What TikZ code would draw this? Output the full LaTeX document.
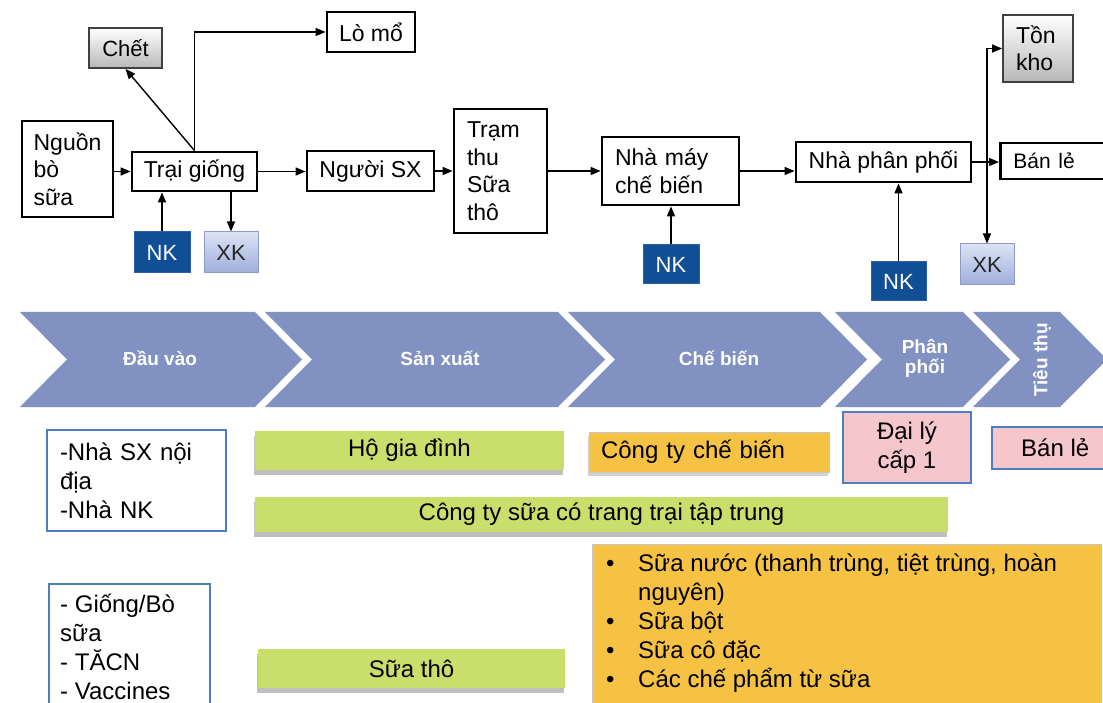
\documentclass[tikz,border=0pt]{standalone}
\usepackage{fontspec}
\setmainfont{Liberation Sans}
\usetikzlibrary{arrows.meta,shadows}
\definecolor{chev}{RGB}{128,145,194}
\definecolor{nkblue}{RGB}{16,78,150}
\definecolor{nkborder}{RGB}{45,95,165}
\definecolor{xktop}{RGB}{220,227,245}
\definecolor{xkbot}{RGB}{158,174,219}
\definecolor{xkborder}{RGB}{140,155,200}
\definecolor{grn}{RGB}{202,222,108}
\definecolor{org}{RGB}{246,194,67}
\definecolor{pnk}{RGB}{245,199,205}
\definecolor{bluebd}{RGB}{79,125,191}
\newcommand\mychevron[2]{\fill[chev] (#1,312) -- (#2,312) -- ++(47,47.5) -- ++(-47,47.5) -- (#1,407) -- ++(47,-47.5) -- cycle;}
\begin{document}
\begin{tikzpicture}[x=1pt,y=-1pt,
  box/.style={draw=black, line width=2.8pt, fill=white, inner sep=0pt, font=\fontsize{23}{27.5}\selectfont},
  graybox/.style={box, line width=1.8pt, draw=black!75, top color=white, bottom color=black!28},
  nkbox/.style={draw=nkborder, line width=1pt, fill=nkblue, text=white, inner sep=0pt, font=\fontsize{22}{26}\selectfont},
  xkbox/.style={draw=xkborder, line width=1pt, top color=xktop, bottom color=xkbot, text=black!85, inner sep=0pt, font=\fontsize{22}{26}\selectfont},
  arr/.style={line width=1.4pt, -{Triangle[length=10pt,width=8pt]}},
  chevlabel/.style={text=white, inner sep=0pt, align=center, font=\bfseries\fontsize{19}{20}\selectfont},
  bar/.style={fill=grn, inner sep=0pt, font=\fontsize{24}{29}\selectfont, drop shadow={shadow xshift=-1pt, shadow yshift=-5pt, fill=black!45, opacity=.55}},
  orgbox/.style={fill=org, draw=black!22, line width=1pt, inner sep=0pt, font=\fontsize{24}{29}\selectfont},
  pinkbox/.style={fill=pnk, draw=bluebd, line width=1.5pt, inner sep=0pt, font=\fontsize{24}{29}\selectfont},
  bluebox/.style={fill=white, draw=bluebd, line width=2pt, inner sep=0pt, font=\fontsize{24}{29}\selectfont},
  plain/.style={inner sep=0pt, font=\fontsize{24}{29}\selectfont}
]
\useasboundingbox (0,0) rectangle (1103,703);
\fill[white] (0,0) rectangle (1103,703);
\clip (0,0) rectangle (1103,703);

% ---------- top flow ----------
\node[box, minimum width=91, minimum height=96, align=left] (nguon) at (67.5,169) {Nguồn\\bò\\sữa};
\node[box, minimum width=125, minimum height=39] (trai) at (194.5,171.5) {Trại giống};
\node[graybox, minimum width=73, minimum height=40] (chet) at (125.5,48) {\fontsize{22}{26}\selectfont Chết};
\node[box, minimum width=88, minimum height=40] (lomo) at (371,32) {Lò mổ};
\node[box, minimum width=127, minimum height=40] (nsx) at (370.5,171) {Người SX};
\node[box, minimum width=93, minimum height=124, align=left, text width=67, inner xsep=13] (tram) at (500.5,171) {Trạm\\thu\\Sữa\\thô};
\node[box, minimum width=137, minimum height=68, align=left, text width=111, inner xsep=13] (nmcb) at (670.5,171) {Nhà máy\\chế biến};
\node[box, minimum width=175, minimum height=40] (npp) at (883.5,162) {Nhà phân phối};
\node[graybox, minimum width=70, minimum height=67, align=left, text width=44, inner xsep=13] (tonkho) at (1038,48.5) {Tồn\\kho};
\node[box, anchor=west, minimum height=36, align=left, text width=100, inner xsep=13] (banle) at (999,161) {\fontsize{21}{25}\selectfont Bán lẻ};
\node[nkbox, minimum width=56, minimum height=41] (nk1) at (162,252.5) {NK};
\node[xkbox, minimum width=54, minimum height=41] (xk1) at (231,252.5) {XK};
\node[nkbox, minimum width=56, minimum height=39] (nk2) at (671,264.5) {NK};
\node[nkbox, minimum width=55, minimum height=39] (nk3) at (898.5,281.5) {NK};
\node[xkbox, minimum width=54, minimum height=41] (xk2) at (987,264.5) {XK};

\draw[arr] (nguon.east |- trai.west) -- (trai.west);
\draw[arr] (trai.east) -- (nsx.west |- trai.east);
\draw[arr] (nsx.east) -- (tram.west |- nsx.east);
\draw[arr] (tram.east) -- (nmcb.west);
\draw[arr] (nmcb.east) -- (nmcb.east -| npp.west);
\draw[arr] (trai.north) -- (chet.south);
\draw[arr] (trai.north) |- (lomo.west);
\draw[arr] (nk1.north) -- (nk1.north |- trai.south);
\draw[arr] (xk1.north |- trai.south) -- (xk1.north);
\draw[arr] (nk2.north) -- (nk2.north |- nmcb.south);
\draw[arr] (nk3.north) -- (nk3.north |- npp.south);
\draw[arr] (npp.east) -- (banle.west |- npp.east);
\coordinate (j) at (987,162);
\draw[arr] (j) |- (tonkho.west);
\draw[arr] (j) -- (xk2.north);

% ---------- chevrons ----------
\mychevron{20}{255}
\mychevron{265}{558}
\mychevron{568}{820}
\mychevron{835}{963}
\mychevron{973}{1060}
\node[chevlabel] (l1) at (160,358) {Đầu vào};
\node[chevlabel] (l2) at (440,358) {Sản xuất};
\node[chevlabel] (l3) at (719,358) {Chế biến};
\node[chevlabel] (l4) at (925,358) {Phân\\phối};
\node[chevlabel, rotate=90] (l5) at (1042,360) {Tiêu thụ};

% ---------- bottom ----------
\node[bluebox, minimum width=179, minimum height=101, align=left, text width=153, inner xsep=13] (b1) at (136.5,480.5) {-Nhà SX nội\\địa\\-Nhà NK};
\node[bluebox, anchor=north west, minimum width=161, minimum height=150] (b2) at (48,583) {};
\node[plain, anchor=north west, align=left] (b2t) at ([xshift=12pt,yshift=-11pt]b2.north west) {- Giống/Bò\\sữa\\- TĂCN\\- Vaccines};

\node[bar, minimum width=309, minimum height=39] (hgd) at (409.5,450.5) {Hộ gia đình};
\node[bar, minimum width=693, minimum height=35] (cts) at (601.5,514.5) {Công ty sữa có trang trại tập trung};
\node[bar, minimum width=307, minimum height=39] (st) at (411.5,668.5) {Sữa thô};

\node[orgbox, minimum width=240, minimum height=40, align=left, text width=216, inner xsep=12, drop shadow={shadow xshift=-1pt, shadow yshift=-4pt, fill=black!40, opacity=.45}] (ctcb) at (709,452) {Công ty chế biến};
\node[pinkbox, minimum width=128, minimum height=71, align=center] (dl) at (907,447.5) {Đại lý\\cấp 1};
\node[pinkbox, anchor=west, minimum width=127, minimum height=42] (bl2) at (991,448) {Bán lẻ};

\node[orgbox, anchor=north west, minimum width=509, minimum height=180] (prod) at (592,544) {};
\node[plain, anchor=north west, align=left] (prodt) at ([xshift=14pt,yshift=-10pt]prod.north west)
{\makebox[32pt][l]{\textbullet}Sữa nước (thanh trùng, tiệt trùng, hoàn\\
\hspace*{32pt}nguyên)\\
\makebox[32pt][l]{\textbullet}Sữa bột\\
\makebox[32pt][l]{\textbullet}Sữa cô đặc\\
\makebox[32pt][l]{\textbullet}Các chế phẩm từ sữa};
\end{tikzpicture}
\end{document}
